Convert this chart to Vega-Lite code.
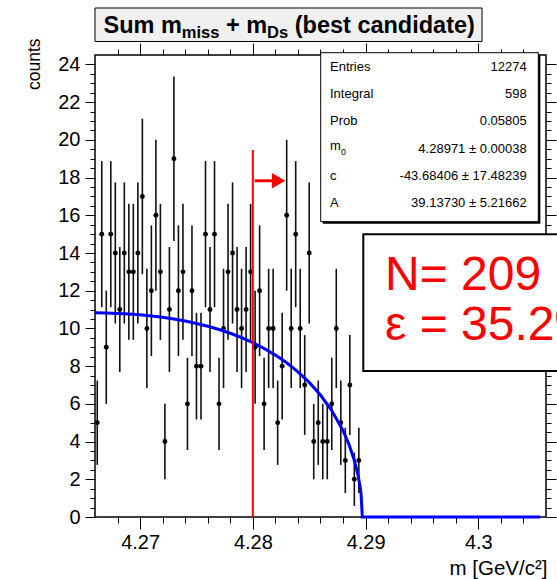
{
"$schema": "https://vega.github.io/schema/vega-lite/v6.json",
"width": 451, "height": 462,
"autosize": {"type": "none"},
"padding": {"left": 95, "top": 55, "right": 11, "bottom": 62},
"background": "white",
"config": {
  "font": "Liberation Sans",
  "view": {"stroke": "black", "strokeWidth": 1.5},
  "axis": {"grid": false, "domain": false, "tickColor": "black", "tickWidth": 1, "labelColor": "black", "titleColor": "black", "labelFont": "Liberation Sans", "titleFont": "Liberation Sans", "titleFontWeight": "normal", "labelFlush": false, "labelOverlap": false, "labelBound": false}
},
"datasets": {
  "hist": [
    {"m":4.2662,"n":5,"lo":2.764,"hi":7.236},
    {"m":4.2666,"n":15,"lo":11.127,"hi":18.873},
    {"m":4.2670,"n":9,"lo":6,"hi":12},
    {"m":4.2674,"n":15,"lo":11.127,"hi":18.873},
    {"m":4.2678,"n":14,"lo":10.258,"hi":17.742},
    {"m":4.2682,"n":11,"lo":7.683,"hi":14.317},
    {"m":4.2686,"n":14,"lo":10.258,"hi":17.742},
    {"m":4.2690,"n":13,"lo":9.394,"hi":16.606},
    {"m":4.2694,"n":13,"lo":9.394,"hi":16.606},
    {"m":4.2698,"n":14,"lo":10.258,"hi":17.742},
    {"m":4.2702,"n":17,"lo":12.877,"hi":21.123},
    {"m":4.2706,"n":10,"lo":6.838,"hi":13.162},
    {"m":4.2710,"n":12,"lo":8.536,"hi":15.464},
    {"m":4.2714,"n":16,"lo":12,"hi":20},
    {"m":4.2718,"n":13,"lo":9.394,"hi":16.606},
    {"m":4.2722,"n":4,"lo":2,"hi":6},
    {"m":4.2726,"n":11,"lo":7.683,"hi":14.317},
    {"m":4.2730,"n":19,"lo":14.641,"hi":23.359},
    {"m":4.2734,"n":12,"lo":8.536,"hi":15.464},
    {"m":4.2738,"n":13,"lo":9.394,"hi":16.606},
    {"m":4.2742,"n":6,"lo":3.551,"hi":8.449},
    {"m":4.2746,"n":12,"lo":8.536,"hi":15.464},
    {"m":4.2750,"n":8,"lo":5.172,"hi":10.828},
    {"m":4.2754,"n":8,"lo":5.172,"hi":10.828},
    {"m":4.2758,"n":15,"lo":11.127,"hi":18.873},
    {"m":4.2762,"n":11,"lo":7.683,"hi":14.317},
    {"m":4.2766,"n":15,"lo":11.127,"hi":18.873},
    {"m":4.2770,"n":6,"lo":3.551,"hi":8.449},
    {"m":4.2774,"n":10,"lo":6.838,"hi":13.162},
    {"m":4.2778,"n":13,"lo":9.394,"hi":16.606},
    {"m":4.2782,"n":14,"lo":10.258,"hi":17.742},
    {"m":4.2786,"n":11,"lo":7.683,"hi":14.317},
    {"m":4.2790,"n":10,"lo":6.838,"hi":13.162},
    {"m":4.2794,"n":11,"lo":7.683,"hi":14.317},
    {"m":4.2798,"n":13,"lo":9.394,"hi":16.606},
    {"m":4.2802,"n":9,"lo":6,"hi":12},
    {"m":4.2806,"n":12,"lo":8.536,"hi":15.464},
    {"m":4.2810,"n":6,"lo":3.551,"hi":8.449},
    {"m":4.2814,"n":10,"lo":6.838,"hi":13.162},
    {"m":4.2818,"n":10,"lo":6.838,"hi":13.162},
    {"m":4.2822,"n":5,"lo":2.764,"hi":7.236},
    {"m":4.2826,"n":8,"lo":5.172,"hi":10.828},
    {"m":4.2830,"n":16,"lo":12,"hi":20},
    {"m":4.2834,"n":10,"lo":6.838,"hi":13.162},
    {"m":4.2838,"n":15,"lo":11.127,"hi":18.873},
    {"m":4.2842,"n":10,"lo":6.838,"hi":13.162},
    {"m":4.2846,"n":7,"lo":4.354,"hi":9.646},
    {"m":4.2850,"n":14,"lo":10.258,"hi":17.742},
    {"m":4.2854,"n":4,"lo":2,"hi":6},
    {"m":4.2858,"n":5,"lo":2.764,"hi":7.236},
    {"m":4.2862,"n":4,"lo":2,"hi":6},
    {"m":4.2866,"n":4,"lo":2,"hi":6},
    {"m":4.2870,"n":6,"lo":3.551,"hi":8.449},
    {"m":4.2874,"n":10,"lo":6.838,"hi":13.162},
    {"m":4.2878,"n":5,"lo":2.764,"hi":7.236},
    {"m":4.2882,"n":3,"lo":1.268,"hi":4.732},
    {"m":4.2886,"n":7,"lo":4.354,"hi":9.646},
    {"m":4.2890,"n":2,"lo":0.586,"hi":3.414},
    {"m":4.2894,"n":3,"lo":1.268,"hi":4.732}
  ],
  "fit": [
    {"m":4.266,"f":10.830},{"m":4.267,"f":10.820},{"m":4.268,"f":10.798},{"m":4.269,"f":10.766},
    {"m":4.270,"f":10.721},{"m":4.271,"f":10.662},{"m":4.272,"f":10.589},{"m":4.273,"f":10.500},
    {"m":4.274,"f":10.392},{"m":4.275,"f":10.265},{"m":4.276,"f":10.116},{"m":4.277,"f":9.943},
    {"m":4.278,"f":9.743},{"m":4.279,"f":9.511},{"m":4.280,"f":9.245},{"m":4.281,"f":8.938},
    {"m":4.282,"f":8.585},{"m":4.283,"f":8.176},{"m":4.284,"f":7.699},{"m":4.285,"f":7.138},
    {"m":4.286,"f":6.467},{"m":4.287,"f":5.643},{"m":4.288,"f":4.576},{"m":4.2885,"f":3.889},
    {"m":4.289,"f":3.010},{"m":4.2893,"f":2.302},{"m":4.2895,"f":1.654},{"m":4.2896,"f":1.200},
    {"m":4.28971,"f":0},{"m":4.3055,"f":0}
  ],
  "cut": [{"cut":4.28,"ylo":0,"yhi":19.46}],
  "one": [{}]
},
"layer": [
  {"data":{"name":"hist"},"mark":{"type":"rule","color":"#111111","strokeWidth":1.6},
   "encoding":{
     "x":{"field":"m","type":"quantitative","scale":{"domain":[4.266,4.306],"nice":false,"zero":false},
          "axis":{"orient":"bottom","values":[4.27,4.28,4.29,4.3],"format":".2~f","tickSize":12,"labelFontSize":20,"labelPadding":3,
                  "title":"m [GeV/c²]","titleFontSize":20.5,"titleAlign":"right","titleBaseline":"alphabetic","titleX":452,"titleY":57,"titleAngle":0}},
     "y":{"field":"lo","type":"quantitative","scale":{"domain":[0,24.5],"nice":false,"zero":false},
          "axis":{"orient":"left","values":[0,2,4,6,8,10,12,14,16,18,20,22,24],"tickSize":10,"labelFontSize":20,"labelPadding":5,
                  "title":"counts","titleFontSize":17.5,"titleAngle":-90,"titleAlign":"right","titleBaseline":"top","titleX":-70,"titleY":-17}},
     "y2":{"field":"hi"}}},
  {"data":{"name":"hist"},"mark":{"type":"point","filled":true,"color":"black","size":24,"opacity":1},
   "encoding":{
     "x":{"field":"m","type":"quantitative","scale":{"domain":[4.266,4.306],"nice":false,"zero":false},
          "axis":{"orient":"bottom","values":[4.268,4.27,4.272,4.274,4.276,4.278,4.28,4.282,4.284,4.286,4.288,4.29,4.292,4.294,4.296,4.298,4.3,4.302,4.304],"tickSize":6,"labels":false,"title":null}},
     "y":{"field":"n","type":"quantitative","scale":{"domain":[0,24.5],"nice":false,"zero":false},
          "axis":{"orient":"left","values":[0.5,1,1.5,2,2.5,3,3.5,4,4.5,5,5.5,6,6.5,7,7.5,8,8.5,9,9.5,10,10.5,11,11.5,12,12.5,13,13.5,14,14.5,15,15.5,16,16.5,17,17.5,18,18.5,19,19.5,20,20.5,21,21.5,22,22.5,23,23.5,24],"tickSize":5,"labels":false,"title":null}}}},
  {"data":{"name":"fit"},"mark":{"type":"line","color":"#0000ff","strokeWidth":3},
   "encoding":{
     "x":{"field":"m","type":"quantitative","scale":{"domain":[4.266,4.306],"nice":false,"zero":false},
          "axis":{"orient":"top","values":[4.27,4.28,4.29,4.3],"tickSize":12,"labels":false,"title":null}},
     "y":{"field":"f","type":"quantitative","scale":{"domain":[0,24.5],"nice":false,"zero":false},
          "axis":{"orient":"right","values":[0,2,4,6,8,10,12,14,16,18,20,22,24],"tickSize":10,"labels":false,"title":null}}}},
  {"data":{"name":"cut"},"mark":{"type":"rule","color":"#ff0000","strokeWidth":2},
   "encoding":{
     "x":{"field":"cut","type":"quantitative","scale":{"domain":[4.266,4.306],"nice":false,"zero":false},
          "axis":{"orient":"top","values":[4.268,4.27,4.272,4.274,4.276,4.278,4.28,4.282,4.284,4.286,4.288,4.29,4.292,4.294,4.296,4.298,4.3,4.302,4.304],"tickSize":6,"labels":false,"title":null}},
     "y":{"field":"ylo","type":"quantitative","scale":{"domain":[0,24.5],"nice":false,"zero":false},
          "axis":{"orient":"right","values":[0.5,1,1.5,2,2.5,3,3.5,4,4.5,5,5.5,6,6.5,7,7.5,8,8.5,9,9.5,10,10.5,11,11.5,12,12.5,13,13.5,14,14.5,15,15.5,16,16.5,17,17.5,18,18.5,19,19.5,20,20.5,21,21.5,22,22.5,23,23.5,24],"tickSize":5,"labels":false,"title":null}},
     "y2":{"field":"yhi"}}},
  {"data":{"name":"one"},"mark":{"type":"rule","color":"#ff0000","strokeWidth":3},
   "encoding":{"x":{"datum":4.28016,"type":"quantitative","scale":{"domain":[4.266,4.306],"nice":false,"zero":false},"axis":null},
     "x2":{"datum":4.2817},
     "y":{"datum":17.83,"type":"quantitative","scale":{"domain":[0,24.5],"nice":false,"zero":false},"axis":null}}},
  {"data":{"name":"one"},"mark":{"type":"point","shape":"triangle-right","filled":true,"color":"#ff0000","size":240,"opacity":1},
   "encoding":{"x":{"datum":4.282284,"type":"quantitative","scale":{"domain":[4.266,4.306],"nice":false,"zero":false},"axis":null},
     "y":{"datum":17.83,"type":"quantitative","scale":{"domain":[0,24.5],"nice":false,"zero":false},"axis":null}}},
  {"data":{"name":"one"},"mark":{"type":"rect","fill":"black"},
   "encoding":{"x":{"datum":4.2862,"type":"quantitative","scale":{"domain":[4.266,4.306],"nice":false,"zero":false},"axis":null},"x2":{"datum":4.30550},
     "y":{"datum":15.554,"type":"quantitative","scale":{"domain":[0,24.5],"nice":false,"zero":false},"axis":null},"y2":{"datum":24.516}}},
  {"data":{"name":"one"},"mark":{"type":"rect","fill":"white","stroke":"black","strokeWidth":1},
   "encoding":{"x":{"datum":4.286018,"type":"quantitative","scale":{"domain":[4.266,4.306],"nice":false,"zero":false},"axis":null},"x2":{"datum":4.305317},
     "y":{"datum":15.66,"type":"quantitative","scale":{"domain":[0,24.5],"nice":false,"zero":false},"axis":null},"y2":{"datum":24.622}}},
  {"data":{"name":"one"},"mark":{"type":"text","text":"Entries","align":"left","baseline":"middle","fontSize":13,"color":"black"},
   "encoding":{"x":{"datum":4.286843,"type":"quantitative","scale":{"domain":[4.266,4.306],"nice":false,"zero":false},"axis":null},"y":{"datum":23.88,"type":"quantitative","scale":{"domain":[0,24.5],"nice":false,"zero":false},"axis":null}}},
  {"data":{"name":"one"},"mark":{"type":"text","text":"Integral","align":"left","baseline":"middle","fontSize":13,"color":"black"},
   "encoding":{"x":{"datum":4.286843,"type":"quantitative","scale":{"domain":[4.266,4.306],"nice":false,"zero":false},"axis":null},"y":{"datum":22.432,"type":"quantitative","scale":{"domain":[0,24.5],"nice":false,"zero":false},"axis":null}}},
  {"data":{"name":"one"},"mark":{"type":"text","text":"Prob","align":"left","baseline":"middle","fontSize":13,"color":"black"},
   "encoding":{"x":{"datum":4.286843,"type":"quantitative","scale":{"domain":[4.266,4.306],"nice":false,"zero":false},"axis":null},"y":{"datum":20.984,"type":"quantitative","scale":{"domain":[0,24.5],"nice":false,"zero":false},"axis":null}}},
  {"data":{"name":"one"},"mark":{"type":"text","text":"m","align":"left","baseline":"middle","fontSize":13,"color":"black"},
   "encoding":{"x":{"datum":4.286843,"type":"quantitative","scale":{"domain":[4.266,4.306],"nice":false,"zero":false},"axis":null},"y":{"datum":19.648,"type":"quantitative","scale":{"domain":[0,24.5],"nice":false,"zero":false},"axis":null}}},
  {"data":{"name":"one"},"mark":{"type":"text","text":"0","align":"left","baseline":"middle","fontSize":9,"color":"black"},
   "encoding":{"x":{"datum":4.287818,"type":"quantitative","scale":{"domain":[4.266,4.306],"nice":false,"zero":false},"axis":null},"y":{"datum":19.33,"type":"quantitative","scale":{"domain":[0,24.5],"nice":false,"zero":false},"axis":null}}},
  {"data":{"name":"one"},"mark":{"type":"text","text":"c","align":"left","baseline":"middle","fontSize":13,"color":"black"},
   "encoding":{"x":{"datum":4.286843,"type":"quantitative","scale":{"domain":[4.266,4.306],"nice":false,"zero":false},"axis":null},"y":{"datum":18.089,"type":"quantitative","scale":{"domain":[0,24.5],"nice":false,"zero":false},"axis":null}}},
  {"data":{"name":"one"},"mark":{"type":"text","text":"A","align":"left","baseline":"middle","fontSize":13,"color":"black"},
   "encoding":{"x":{"datum":4.286843,"type":"quantitative","scale":{"domain":[4.266,4.306],"nice":false,"zero":false},"axis":null},"y":{"datum":16.641,"type":"quantitative","scale":{"domain":[0,24.5],"nice":false,"zero":false},"axis":null}}},
  {"data":{"name":"one"},"mark":{"type":"text","text":"12274","align":"right","baseline":"middle","fontSize":13,"color":"black"},
   "encoding":{"x":{"datum":4.304288,"type":"quantitative","scale":{"domain":[4.266,4.306],"nice":false,"zero":false},"axis":null},"y":{"datum":23.88,"type":"quantitative","scale":{"domain":[0,24.5],"nice":false,"zero":false},"axis":null}}},
  {"data":{"name":"one"},"mark":{"type":"text","text":"598","align":"right","baseline":"middle","fontSize":13,"color":"black"},
   "encoding":{"x":{"datum":4.304288,"type":"quantitative","scale":{"domain":[4.266,4.306],"nice":false,"zero":false},"axis":null},"y":{"datum":22.432,"type":"quantitative","scale":{"domain":[0,24.5],"nice":false,"zero":false},"axis":null}}},
  {"data":{"name":"one"},"mark":{"type":"text","text":"0.05805","align":"right","baseline":"middle","fontSize":13,"color":"black"},
   "encoding":{"x":{"datum":4.304288,"type":"quantitative","scale":{"domain":[4.266,4.306],"nice":false,"zero":false},"axis":null},"y":{"datum":20.984,"type":"quantitative","scale":{"domain":[0,24.5],"nice":false,"zero":false},"axis":null}}},
  {"data":{"name":"one"},"mark":{"type":"text","text":"4.28971 ± 0.00038","align":"right","baseline":"middle","fontSize":13,"color":"black"},
   "encoding":{"x":{"datum":4.304288,"type":"quantitative","scale":{"domain":[4.266,4.306],"nice":false,"zero":false},"axis":null},"y":{"datum":19.537,"type":"quantitative","scale":{"domain":[0,24.5],"nice":false,"zero":false},"axis":null}}},
  {"data":{"name":"one"},"mark":{"type":"text","text":"-43.68406 ± 17.48239","align":"right","baseline":"middle","fontSize":13,"color":"black"},
   "encoding":{"x":{"datum":4.304288,"type":"quantitative","scale":{"domain":[4.266,4.306],"nice":false,"zero":false},"axis":null},"y":{"datum":18.089,"type":"quantitative","scale":{"domain":[0,24.5],"nice":false,"zero":false},"axis":null}}},
  {"data":{"name":"one"},"mark":{"type":"text","text":"39.13730 ± 5.21662","align":"right","baseline":"middle","fontSize":13,"color":"black"},
   "encoding":{"x":{"datum":4.304288,"type":"quantitative","scale":{"domain":[4.266,4.306],"nice":false,"zero":false},"axis":null},"y":{"datum":16.641,"type":"quantitative","scale":{"domain":[0,24.5],"nice":false,"zero":false},"axis":null}}},
  {"data":{"name":"one"},"mark":{"type":"rect","fill":"white","stroke":"black","strokeWidth":2},
   "encoding":{"x":{"datum":4.289796,"type":"quantitative","scale":{"domain":[4.266,4.306],"nice":false,"zero":false},"axis":null},"x2":{"datum":4.3122},
     "y":{"datum":7.742,"type":"quantitative","scale":{"domain":[0,24.5],"nice":false,"zero":false},"axis":null},"y2":{"datum":14.992}}},
  {"data":{"name":"one"},"mark":{"type":"text","text":"N= 209","align":"left","baseline":"alphabetic","fontSize":48,"color":"#ff0000"},
   "encoding":{"x":{"datum":4.291721,"type":"quantitative","scale":{"domain":[4.266,4.306],"nice":false,"zero":false},"axis":null},"y":{"datum":12.038,"type":"quantitative","scale":{"domain":[0,24.5],"nice":false,"zero":false},"axis":null}}},
  {"data":{"name":"one"},"mark":{"type":"text","text":"ε = 35.2%","align":"left","baseline":"alphabetic","fontSize":48,"color":"#ff0000"},
   "encoding":{"x":{"datum":4.291721,"type":"quantitative","scale":{"domain":[4.266,4.306],"nice":false,"zero":false},"axis":null},"y":{"datum":9.386,"type":"quantitative","scale":{"domain":[0,24.5],"nice":false,"zero":false},"axis":null}}},
  {"data":{"name":"one"},"mark":{"type":"rect","fill":"#f0f0f0","stroke":"black","strokeWidth":1},
   "encoding":{"x":{"datum":4.266,"type":"quantitative","scale":{"domain":[4.266,4.306],"nice":false,"zero":false},"axis":null},"x2":{"datum":4.300324},
     "y":{"datum":25.216,"type":"quantitative","scale":{"domain":[0,24.5],"nice":false,"zero":false},"axis":null},"y2":{"datum":26.993}}},
  {"data":{"name":"one"},"mark":{"type":"text","text":"Sum m","align":"left","baseline":"alphabetic","fontSize":23.5,"fontWeight":"bold","color":"black"},
   "encoding":{"x":{"datum":4.266754,"type":"quantitative","scale":{"domain":[4.266,4.306],"nice":false,"zero":false},"axis":null},"y":{"datum":25.667,"type":"quantitative","scale":{"domain":[0,24.5],"nice":false,"zero":false},"axis":null}}},
  {"data":{"name":"one"},"mark":{"type":"text","text":"miss","align":"left","baseline":"alphabetic","fontSize":16.5,"fontWeight":"bold","color":"black"},
   "encoding":{"x":{"datum":4.273698,"type":"quantitative","scale":{"domain":[4.266,4.306],"nice":false,"zero":false},"axis":null},"y":{"datum":25.402,"type":"quantitative","scale":{"domain":[0,24.5],"nice":false,"zero":false},"axis":null}}},
  {"data":{"name":"one"},"mark":{"type":"text","text":"+ m","align":"left","baseline":"alphabetic","fontSize":23.5,"fontWeight":"bold","color":"black"},
   "encoding":{"x":{"datum":4.27761,"type":"quantitative","scale":{"domain":[4.266,4.306],"nice":false,"zero":false},"axis":null},"y":{"datum":25.667,"type":"quantitative","scale":{"domain":[0,24.5],"nice":false,"zero":false},"axis":null}}},
  {"data":{"name":"one"},"mark":{"type":"text","text":"Ds","align":"left","baseline":"alphabetic","fontSize":16.5,"fontWeight":"bold","color":"black"},
   "encoding":{"x":{"datum":4.281264,"type":"quantitative","scale":{"domain":[4.266,4.306],"nice":false,"zero":false},"axis":null},"y":{"datum":25.402,"type":"quantitative","scale":{"domain":[0,24.5],"nice":false,"zero":false},"axis":null}}},
  {"data":{"name":"one"},"mark":{"type":"text","text":"(best candidate)","align":"left","baseline":"alphabetic","fontSize":23.5,"fontWeight":"bold","color":"black"},
   "encoding":{"x":{"datum":4.283712,"type":"quantitative","scale":{"domain":[4.266,4.306],"nice":false,"zero":false},"axis":null},"y":{"datum":25.667,"type":"quantitative","scale":{"domain":[0,24.5],"nice":false,"zero":false},"axis":null}}}
],
"resolve": {"axis": {"x": "independent", "y": "independent"}}
}
